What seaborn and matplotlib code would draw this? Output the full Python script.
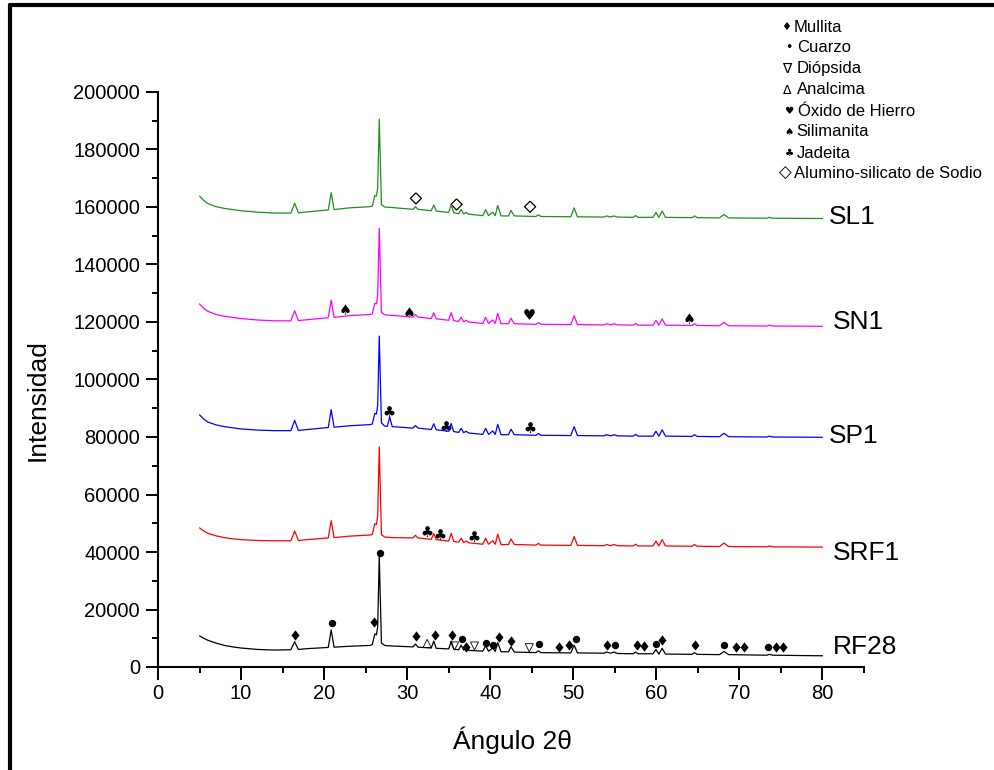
import numpy as np
import pandas as pd
import matplotlib
matplotlib.use("Agg")
import matplotlib.pyplot as plt
from matplotlib.lines import Line2D
from matplotlib.ticker import MultipleLocator, FormatStrFormatter
import seaborn as sns

# ---------------- data ----------------
two_theta = [5, 5.5, 6, 7, 8, 9, 10, 12, 14, 16.0, 16.45, 16.9, 18, 20.5, 20.85, 21.2,
             23, 25.5, 25.8, 26.1, 26.3, 26.45, 26.64, 26.9, 27.3, 27.6, 27.9, 28.2,
             30.7, 31.0, 31.3, 32.9, 33.2, 33.5, 35.0, 35.3, 35.6, 36.2, 36.5, 36.8,
             37.1, 37.4, 39.1, 39.45, 39.8, 40.3, 40.6, 40.9, 41.3, 42.2, 42.5, 42.9,
             45.5, 45.8, 46.1, 49.7, 50.1, 50.5, 53.7, 54.0, 54.5, 54.9, 55.3, 57.2,
             57.5, 57.8, 59.6, 59.95, 60.3, 60.7, 61.1, 64.3, 64.6, 64.9, 67.6, 68.15,
             68.7, 73.3, 73.6, 74.0, 80]

rf28 = [10800, 10000, 9300, 8300, 7500, 7000, 6600, 6100, 5900, 6000, 8800, 6100, 6400, 6800, 12900, 6900,
        7200, 7500, 7800, 11500, 11200, 14000, 38500, 8300, 7500, 7400, 7400, 7300,
        7000, 8000, 6900, 6600, 9000, 6500, 6300, 9000, 6200, 6000, 7600, 5900,
        6500, 5800, 5500, 7400, 5500, 6600, 5400, 8500, 5300, 5300, 7000, 5200,
        5000, 5600, 5000, 4900, 7600, 4900, 4800, 5200, 4800, 5200, 4700, 4600,
        5200, 4600, 4600, 6100, 4500, 6500, 4500, 4400, 5000, 4400, 4300, 5400,
        4300, 4100, 4400, 4100, 3900]

srf1 = [48400, 47300, 46500, 45600, 45000, 44600, 44300, 44000, 43900, 43900, 47300, 44000, 44300, 44900, 50900, 45000,
        45500, 45900, 46100, 49800, 49600, 52500, 76600, 46000, 45200, 45100, 45100, 45000,
        44900, 45800, 44900, 44400, 46400, 44300, 43800, 46500, 43700, 43400, 44800, 43300,
        43800, 43200, 42700, 44800, 42700, 43900, 42700, 46200, 42600, 42600, 44500, 42600,
        42400, 43000, 42400, 42300, 45400, 42300, 42200, 42600, 42200, 42600, 42200, 42100,
        42700, 42100, 42100, 43800, 42100, 44300, 42100, 42000, 42600, 42000, 41900, 43100,
        41900, 41800, 42100, 41800, 41700]

sp1 = [87700, 86300, 85200, 84200, 83600, 83200, 82800, 82400, 82200, 82200, 85800, 82300, 82600, 83300, 89500, 83400,
       83900, 84300, 84500, 88200, 88000, 91000, 115100, 84900, 83800, 83700, 86900, 83600,
       83100, 84000, 83100, 82600, 84600, 82500, 82000, 84700, 81900, 81600, 83000, 81500,
       82000, 81400, 80900, 83000, 80900, 82100, 80900, 84400, 80800, 80800, 82700, 80800,
       80600, 81200, 80600, 80500, 83600, 80500, 80400, 80800, 80400, 80800, 80400, 80300,
       80900, 80300, 80300, 82000, 80300, 82500, 80300, 80200, 80800, 80200, 80100, 81300,
       80100, 80000, 80300, 80000, 79900]

sn1 = [126300, 124800, 123700, 122600, 122000, 121600, 121200, 120700, 120400, 120400, 123900, 120500, 120800, 121500, 127600, 121600,
       122200, 122600, 122800, 126500, 126300, 129300, 152600, 123300, 122500, 122400, 122400, 122300,
       121700, 122600, 121700, 121200, 123200, 121100, 120600, 123300, 120500, 120200, 121600, 120100,
       120600, 120000, 119500, 121600, 119500, 120700, 119500, 123000, 119400, 119400, 121300, 119400,
       119200, 119800, 119200, 119100, 122200, 119100, 119000, 119400, 119000, 119400, 119000, 118900,
       119500, 118900, 118900, 120600, 118900, 121100, 118900, 118800, 119400, 118800, 118700, 119900,
       118700, 118600, 118900, 118600, 118500]

sl1 = [163800, 162300, 161200, 160100, 159500, 159100, 158700, 158200, 157900, 157900, 161300, 158000, 158300, 159000, 165000, 159100,
       159700, 160100, 160300, 164000, 163800, 166800, 190600, 160800, 160000, 159900, 159900, 159800,
       159200, 160100, 159200, 158700, 160700, 158600, 158100, 160800, 158000, 157700, 159100, 157600,
       158100, 157500, 157000, 159100, 157000, 158200, 157000, 160500, 156900, 156900, 158800, 156900,
       156700, 157300, 156700, 156600, 159700, 156600, 156500, 156900, 156500, 156900, 156500, 156400,
       157000, 156400, 156400, 158100, 156400, 158600, 156400, 156300, 156900, 156300, 156200, 157400,
       156200, 156100, 156400, 156100, 156000]

samples = ["RF28", "SRF1", "SP1", "SN1", "SL1"]
sample_colors = ["#000000", "#ff0000", "#0000ff", "#ff00ff", "#1f8f1f"]
label_x = [81.3, 81.3, 80.8, 81.3, 80.8]
label_y = [6960, 39760, 80350, 120000, 156500]

# phase markers (2theta, intensity)
mullita_x = [16.5, 26.0, 31.05, 33.3, 35.4, 37.1, 41.0, 42.55, 48.3, 49.5, 54.0, 57.7, 58.5, 60.7, 64.6, 69.6, 70.5, 74.4, 75.2]
mullita_y = [11100, 15800, 10800, 11100, 11100, 7100, 10300, 9200, 7100, 7500, 7800, 7700, 7400, 9400, 7700, 7100, 7100, 7000, 7000]
cuarzo_x = [20.9, 26.7, 36.6, 39.5, 40.3, 45.9, 50.3, 55.0, 60.0, 68.2, 73.4]
cuarzo_y = [15200, 39800, 9600, 8500, 7700, 8000, 9700, 7500, 8000, 7700, 6800]
diopsida_x = [35.7, 38.1, 44.7]
diopsida_y = [7300, 7300, 6700]
analcima_x = [32.4]
analcima_y = [8200]
oxido_x = [44.7]
oxido_y = [122700]
silimanita_x = [22.5, 30.2, 63.9]
silimanita_y = [124400, 123600, 121500]
jadeita_x = [32.4, 33.9, 38.0, 27.8, 34.7, 44.8]
jadeita_y = [47300, 46100, 45700, 89000, 83800, 83600]
alumino_x = [31.05, 35.95, 44.8]
alumino_y = [163000, 160900, 160100]

legend_symbols = ["\u2666", "\u2022", "\u2207", "\u0394", "\u2665", "\u2660", "\u2663", "\u25C7"]
legend_texts = ["Mullita", "Cuarzo", "Diópsida", "Analcima", "Óxido de Hierro",
                "Silimanita", "Jadeita", "Alumino-silicato de Sodio"]

x_ticks = [0, 10, 20, 30, 40, 50, 60, 70, 80]
y_ticks = [0, 20000, 40000, 60000, 80000, 100000, 120000, 140000, 160000, 180000, 200000]

# ---------------- figure ----------------
sns.set_theme(style="ticks")
plt.rcParams['font.family'] = ['Liberation Sans', 'DejaVu Sans']

W, H = 995, 770
fig = plt.figure(figsize=(W / 100, H / 100), dpi=100)
fig.patch.set_facecolor("white")
ax = fig.add_axes([158 / W, (H - 667) / H, (864 - 158) / W, (667 - 92) / H])
ax.set_facecolor("white")

series = {"RF28": rf28, "SRF1": srf1, "SP1": sp1, "SN1": sn1, "SL1": sl1}
frames = []
for name in samples:
    frames.append(pd.DataFrame({"two_theta": two_theta, "intensity": series[name], "sample": name}))
df = pd.concat(frames, ignore_index=True)

sns.lineplot(data=df, x="two_theta", y="intensity", hue="sample",
             palette=dict(zip(samples, sample_colors)), sort=False, estimator=None,
             legend=False, linewidth=0.9, ax=ax)

for name, lx, ly in zip(samples, label_x, label_y):
    ax.text(lx, ly, name, fontsize=19, ha="left", va="center", color="black", clip_on=False)

# markers
diamond_path = [(0, 1), (0.78, 0), (0, -1), (-0.78, 0), (0, 1)]
open_diamond = [(0, 1), (1, 0), (0, -1), (-1, 0), (0, 1)]
sns.scatterplot(x=mullita_x, y=mullita_y, marker=diamond_path, s=55, color="black", edgecolor="black", linewidth=0, ax=ax)
sns.scatterplot(x=cuarzo_x, y=cuarzo_y, marker="o", s=28, color="black", edgecolor="black", linewidth=0, ax=ax)
sns.scatterplot(x=diopsida_x, y=diopsida_y, marker="v", s=34, facecolor="none", edgecolor="black", linewidth=0.6, ax=ax)
sns.scatterplot(x=analcima_x, y=analcima_y, marker="^", s=34, facecolor="none", edgecolor="black", linewidth=0.6, ax=ax)
sns.scatterplot(x=oxido_x, y=oxido_y, marker="$\u2665$", s=60, color="black", linewidth=0, ax=ax)
sns.scatterplot(x=silimanita_x, y=silimanita_y, marker="$\u2660$", s=55, color="black", linewidth=0, ax=ax)
sns.scatterplot(x=jadeita_x, y=jadeita_y, marker="$\u2663$", s=60, color="black", linewidth=0, ax=ax)
sns.scatterplot(x=alumino_x, y=alumino_y, marker=open_diamond, s=64, facecolor="none", edgecolor="black", linewidth=0.9, ax=ax)

# axes styling
ax.set_xlim(0, 85)
ax.set_ylim(0, 200000)
ax.set_xticks(x_ticks)
ax.set_yticks(y_ticks)
ax.xaxis.set_minor_locator(MultipleLocator(5))
ax.yaxis.set_minor_locator(MultipleLocator(10000))
ax.yaxis.set_major_formatter(FormatStrFormatter("%d"))
ax.tick_params(which="major", direction="out", length=9, width=1.4, labelsize=14.5, color="black", labelcolor="black")
ax.tick_params(axis="x", which="major", pad=3)
ax.tick_params(axis="y", which="major", pad=4)
ax.tick_params(which="minor", direction="out", length=4.5, width=1.4, color="black")
sns.despine(ax=ax)
for sp in ("left", "bottom"):
    ax.spines[sp].set_linewidth(1.5)
    ax.spines[sp].set_color("black")
ax.grid(False)

ax.set_xlabel("Ángulo 2θ", fontsize=19, color="black")
ax.set_ylabel("Intensidad", fontsize=19, color="black")
ax.xaxis.set_label_coords(0.502, -0.103)
ax.yaxis.set_label_coords(-0.154, 0.464)

# legend (symbols + text at top right)
def P(x, y):
    return x / W, 1 - y / H

sym_x = [786, 789, 787, 787, 789, 789, 789, 785]
sym_size = [8, 9, 10, 9, 7.5, 7.5, 7.5, 12]
txt_x = [794, 797, 797, 797, 798, 796, 797, 794]
row_y = [27, 48, 69, 90, 111, 132, 153, 173]
for sx, ss, tx, ry, sym, txt in zip(sym_x, sym_size, txt_x, row_y, legend_symbols, legend_texts):
    fig.text(*P(sx, ry), sym, fontsize=ss, ha="center", va="center", family="DejaVu Sans", color="black")
    fig.text(*P(tx, ry), txt, fontsize=12, ha="left", va="center", color="black")

# frame lines (top and left)
fig.add_artist(Line2D([10 / W, 1.0], [1 - 4.5 / H, 1 - 4.5 / H], color="black", linewidth=3.0, transform=fig.transFigure))
fig.add_artist(Line2D([10 / W, 10 / W], [0.0, 1 - 4.5 / H], color="black", linewidth=3.0, transform=fig.transFigure))

fig.savefig("out.png", dpi=100, facecolor="white")
